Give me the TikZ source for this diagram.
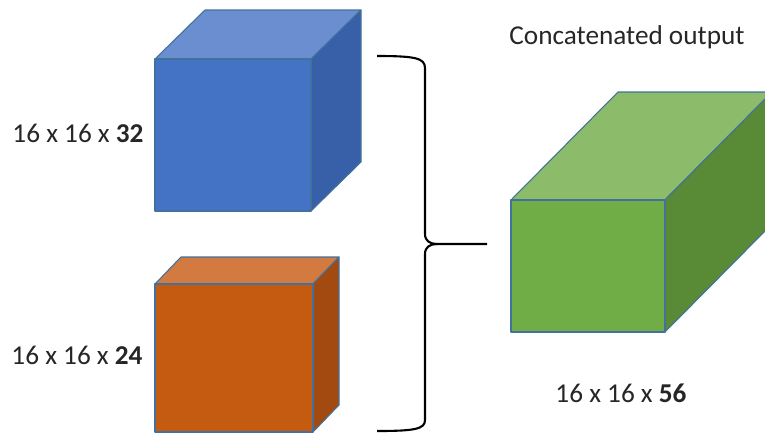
\documentclass[tikz,border=0pt]{standalone}
\usepackage{fontspec}
\setmainfont{Carlito}
\definecolor{cubeline}{HTML}{41719C}
\definecolor{blueFront}{HTML}{4472C4}
\definecolor{blueTop}{HTML}{6A8ED0}
\definecolor{blueSide}{HTML}{3760A8}
\definecolor{orangeFront}{HTML}{C55A11}
\definecolor{orangeTop}{HTML}{D27A40}
\definecolor{orangeSide}{HTML}{A24A0F}
\definecolor{greenFront}{HTML}{70AD47}
\definecolor{greenTop}{HTML}{8CBB6A}
\definecolor{greenSide}{HTML}{598B37}
\definecolor{textgray}{HTML}{262626}
\begin{document}
\begin{tikzpicture}[x=0.02cm,y=-0.02cm,
    face/.style={draw=cubeline,line width=0.6pt,line join=round},
    lbl/.style={font=\fontsize{15.5}{18}\selectfont,text=textgray,inner sep=0pt},
    bracket/.style={draw=black,line width=1.2pt,line join=round}]
  \useasboundingbox (0,0) rectangle (765,434);
  \clip (0,0) rectangle (765,434);
  % input 1
  \filldraw[face,fill=blueTop] (155,59) -- (205,10) -- (361,10) -- (311,59) -- cycle;
  \filldraw[face,fill=blueSide] (311,59) -- (361,10) -- (361,162) -- (311,211) -- cycle;
  \filldraw[face,fill=blueFront] (155,59) rectangle (311,211);
  % input 2
  \filldraw[face,fill=orangeTop] (155,284) -- (181,257) -- (339,257) -- (313,284) -- cycle;
  \filldraw[face,fill=orangeSide] (313,284) -- (339,257) -- (339,405) -- (313,432) -- cycle;
  \filldraw[face,fill=orangeFront] (155,284) rectangle (313,432);
  % output
  \filldraw[face,fill=greenTop] (511,200) -- (618,92) -- (772,92) -- (665,200) -- cycle;
  \filldraw[face,fill=greenSide] (665,200) -- (772,92) -- (772,224) -- (665,332) -- cycle;
  \filldraw[face,fill=greenFront] (511,200) rectangle (665,332);
  % brace
  \coordinate (braceTop) at (377,56);
  \coordinate (braceTip) at (487,244);
  \coordinate (braceBot) at (377,431);
  \draw[bracket] (braceTop) .. controls (415,56) and (425,58) .. (425,68)
    -- (425,234) .. controls (425,241) and (430,244) .. (437,244) -- (braceTip);
  \draw[bracket] (437,244) .. controls (430,244) and (425,247) .. (425,254)
    -- (425,420) .. controls (425,429) and (415,431) .. (braceBot);
  % labels
  \node[lbl] (inA) at (78,133) {16 x 16 x \textbf{32}};
  \node[lbl] (inB) at (77,355) {16 x 16 x \textbf{24}};
  \node[lbl] (title) at (627,37) {Concatenated output};
  \node[lbl] (outC) at (621,393) {16 x 16 x \textbf{56}};
\end{tikzpicture}
\end{document}
